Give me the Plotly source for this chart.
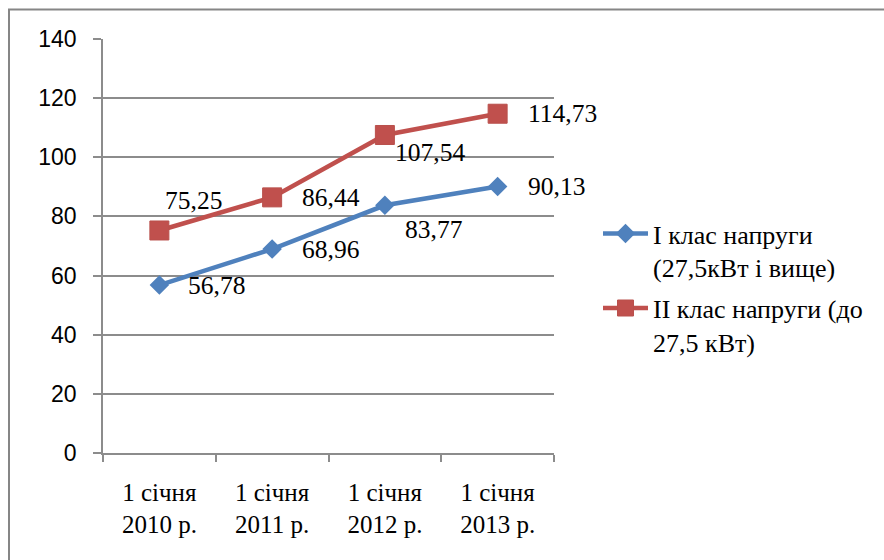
import plotly.graph_objects as go

categories = ["1 січня<br>2010 р.", "1 січня<br>2011 р.", "1 січня<br>2012 р.", "1 січня<br>2013 р."]
series1_name = "І клас напруги<br>(27,5кВт і вище)"
series2_name = "ІІ клас напруги (до<br>27,5 кВт)"
series1 = [56.78, 68.96, 83.77, 90.13]
series2 = [75.25, 86.44, 107.54, 114.73]
y_ticks = [0, 20, 40, 60, 80, 100, 120, 140]

# label offsets (pixels) -- styling only
off1 = [(27, 0), (28, 0), (18, -24), (28, 0)]
off2 = [(4, 30), (28, 0), (8, -18), (28, 0)]

BLUE = "#4F81BD"
RED = "#C0504D"
GRID = "#8C8C8C"
SERIF = "Liberation Serif, DejaVu Serif, serif"
SANS = "Liberation Sans, Arial, sans-serif"

W, H = 884, 560
L, R, T, B = 103, 330, 39, 107
pw, ph = W - L - R, H - T - B

fig = go.Figure()
fig.add_trace(go.Scatter(
    x=categories, y=series1, name=series1_name, mode="lines+markers", legendgroup="g1",
    line=dict(color=BLUE, width=4.5),
    marker=dict(symbol="diamond", size=15, color=BLUE, line=dict(color=BLUE, width=0)),
))
fig.add_trace(go.Scatter(
    x=categories, y=series2, name=series2_name, mode="lines+markers", legendgroup="g2",
    line=dict(color=RED, width=4.5),
    marker=dict(symbol="square", size=19, color=RED, line=dict(color="#B9504C", width=1)),
))

ann = []
def fmt(v):
    return f"{v:.2f}".replace(".", ",")

for vals, offs in ((series1, off1), (series2, off2)):
    for i, v in enumerate(vals):
        ann.append(dict(x=categories[i], y=v, xref="x", yref="y", text=fmt(v), showarrow=False,
                        xanchor="left", yanchor="middle", xshift=offs[i][0], yshift=offs[i][1],
                        font=dict(family=SERIF, size=25.5, color="black")))

def px2x(p):
    return (p - L) / pw
def py2y(p):
    return (H - B - p) / ph

fig.update_layout(
    width=W, height=H,
    margin=dict(l=L, r=R, t=T, b=B),
    paper_bgcolor="white", plot_bgcolor="white",
    font=dict(family=SERIF),
    showlegend=True,
    legend=dict(x=px2x(598), y=py2y(210), xref="paper", yref="paper", xanchor="left", yanchor="top",
                font=dict(family=SERIF, size=26, color="black"), valign="top",
                itemwidth=45, tracegroupgap=4, bgcolor="rgba(0,0,0,0)"),
    annotations=ann,
    shapes=[dict(type="rect", xref="paper", yref="paper",
                 x0=px2x(9), x1=px2x(900), y0=py2y(580), y1=py2y(9.5),
                 line=dict(color="#868686", width=2), fillcolor="rgba(0,0,0,0)", layer="below")],
    xaxis=dict(type="category", range=[-0.5, 3.5], tickson="boundaries",
               ticks="outside", ticklen=7, tickcolor=GRID, tickwidth=1.5,
               tickfont=dict(family=SERIF, size=25, color="black"), ticklabelstandoff=16,
               showgrid=False, zeroline=False, showline=True, linecolor=GRID, linewidth=1.5,
               fixedrange=True),
    yaxis=dict(range=[0, 140], tickmode="array", tickvals=y_ticks, ticks="outside", ticklen=8,
               tickcolor=GRID, tickwidth=1.5, showgrid=True, gridcolor=GRID, gridwidth=1.5,
               zeroline=False, showline=True, linecolor=GRID, linewidth=1.5,
               tickfont=dict(family=SANS, size=23, color="black"), ticklabelstandoff=12),
)

fig.write_html("out.html", config={"displayModeBar": False},
               post_script="document.body.style.margin='0';")
